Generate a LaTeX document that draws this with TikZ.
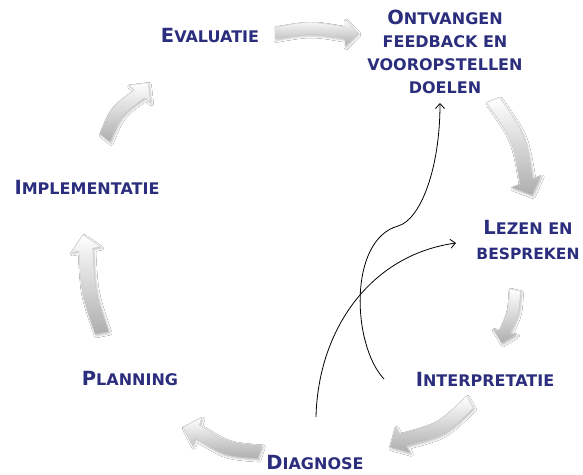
\documentclass[tikz,border=0pt]{standalone}
\usepackage{fontspec}
\setmainfont{DejaVu Sans}
\usetikzlibrary{arrows.meta,shadows.blur}
\definecolor{navy}{RGB}{43,45,125}
\newcommand{\capA}[1]{{\fontsize{19.5}{24}\selectfont #1}}
\newcommand{\capB}[1]{{\fontsize{16}{24}\selectfont #1}}
% x, y, angle, L, w, h, hl, bend
\newcommand{\blockarr}[8]{%
  \begin{scope}[shift={(#1,#2)},rotate=#3]
    \path[blockarrow]
      (0,{-#5/2}) .. controls ({(#4-#7)/2},{-#5/2-2*#8}) .. ({#4-#7},{-#5/2})
      -- ({#4-#7},{-#6/2}) -- (#4,0) -- ({#4-#7},{#6/2})
      -- ({#4-#7},{#5/2}) .. controls ({(#4-#7)/2},{#5/2-2*#8}) .. (0,{#5/2}) -- cycle;
  \end{scope}}
\begin{document}
\begin{tikzpicture}[x=1pt,y=-1pt,
  lbl/.style={text=navy,font=\bfseries\fontsize{16}{23}\selectfont,inner sep=0pt,align=center},
  blockarrow/.style={top color=white,middle color=black!4,bottom color=black!32,draw=black!20,line width=0.4pt,
    blur shadow={shadow xshift=1.2pt,shadow yshift=-1.5pt,shadow opacity=25,shadow blur radius=2pt}},
  thin/.style={draw=black,line width=0.8pt,-{Straight Barb[length=5pt,width=9pt]}}]
\fill[white] (0,0) rectangle (583,474);
\useasboundingbox (0,0) rectangle (583,474);

% block arrows
\blockarr{275}{33}{0}{83}{12}{27}{13}{3}
\blockarr{493}{100}{-67.7}{103}{14}{32}{15}{5}
\blockarr{515}{290}{-103.8}{55}{11}{24}{12}{2}
\blockarr{470}{402}{-150.6}{92}{14}{30}{15}{5}
\blockarr{260}{452}{162}{81}{14}{30}{15}{4}
\blockarr{102}{333}{101}{100}{14}{30}{15}{3}
\blockarr{105}{138}{52}{70}{13}{28}{14}{4}

% labels
\node[lbl,anchor=base] (eval) at (210,42) {\capA{E}\capB{VALUATIE}};
\node[lbl,anchor=north] (ontv) at (445,10) {\capA{O}\capB{NTVANGEN}\\FEEDBACK EN\\VOOROPSTELLEN\\DOELEN};
\node[lbl,anchor=north,font=\bfseries\fontsize{15.5}{25}\selectfont] (lezen) at (528,220) {\capA{L}\capB{EZEN EN}\\BESPREKEN};
\node[lbl,anchor=base] (interp) at (485,386) {\capA{I}\capB{NTERPRETATIE}};
\node[lbl,anchor=base] (diag) at (315,469) {\capA{D}\capB{IAGNOSE}};
\node[lbl,anchor=base] (plan) at (130,385) {\capA{P}\capB{LANNING}};
\node[lbl,anchor=base] (impl) at (87,194) {\capA{I}\capB{MPLEMENTATIE}};

% thin curved arrows
\coordinate (c1s) at (384,379);
\coordinate (c1m) at (398,226);
\coordinate (c1e) at (440,103);
\coordinate (c2s) at (316,417);
\coordinate (c2e) at (456,243);
\draw[thin] (c1s) .. controls (352,345) and (348,240) .. (c1m) .. controls (420,220) and (440,170) .. (c1e);
\draw[thin] (c2s) .. controls (318,330) and (370,255) .. (c2e);
\end{tikzpicture}
\end{document}
